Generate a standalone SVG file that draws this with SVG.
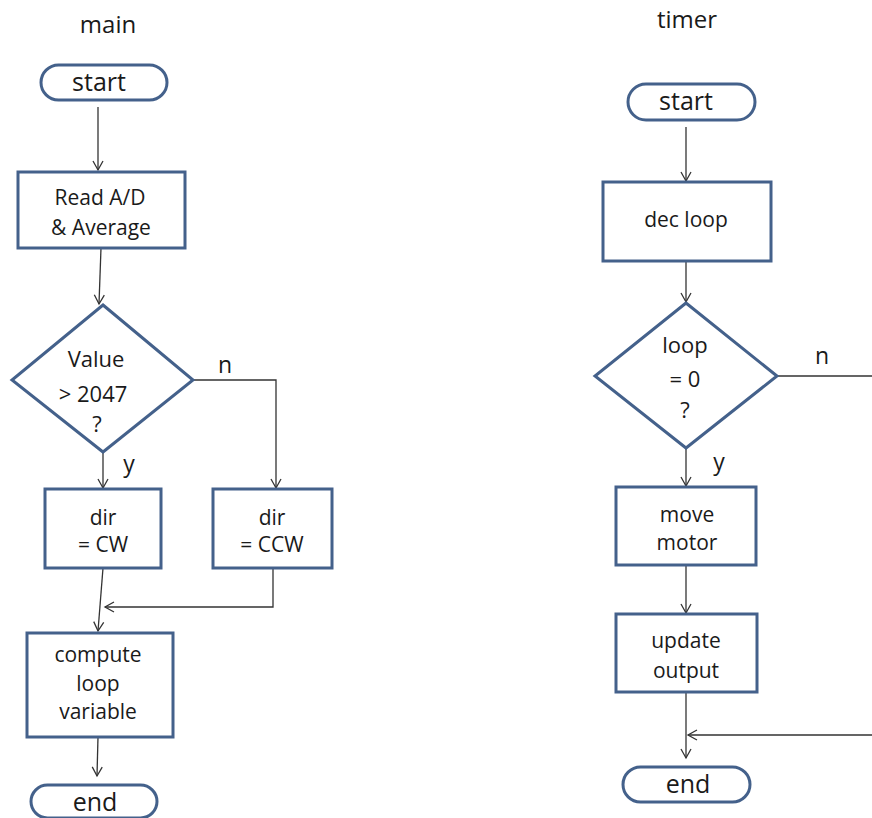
<svg xmlns="http://www.w3.org/2000/svg" width="872" height="818" viewBox="0 0 872 818">
<defs>
<style>
.shape{fill:#ffffff;stroke:#44618b;stroke-width:3}
.conn{fill:none;stroke:#333333;stroke-width:1.3}
text{font-family:"Open Sans","Liberation Sans",sans-serif;fill:#1a1a1a;text-anchor:middle}
.t{font-size:21px}
.d{font-size:22px}
.term{font-size:25px}
.title{font-size:24px}
.lbl{font-size:23px}
</style>
<marker id="arr" markerWidth="12" markerHeight="12" refX="10" refY="6" orient="auto" markerUnits="userSpaceOnUse">
<path d="M1,1 L10,6 L1,11" fill="none" stroke="#333333" stroke-width="1.3"/>
</marker>
</defs>
<rect width="872" height="818" fill="#ffffff"/>

<text class="title" x="108" y="33">main</text>
<text class="title" x="687" y="28">timer</text>

<g id="connectors">
<path class="conn" d="M98,107 V170" marker-end="url(#arr)"/>
<path class="conn" d="M101,248 L99,304" marker-end="url(#arr)"/>
<path class="conn" d="M103,452 V488" marker-end="url(#arr)"/>
<path class="conn" d="M193,380 H276 V488" marker-end="url(#arr)"/>
<path class="conn" d="M103,568 L98,631" marker-end="url(#arr)"/>
<path class="conn" d="M273,568 V607 H105" marker-end="url(#arr)"/>
<path class="conn" d="M98,737 L97,776" marker-end="url(#arr)"/>
<path class="conn" d="M686,127 V181" marker-end="url(#arr)"/>
<path class="conn" d="M686,261 V302" marker-end="url(#arr)"/>
<path class="conn" d="M686,448 V486" marker-end="url(#arr)"/>
<path class="conn" d="M686,565 V613" marker-end="url(#arr)"/>
<path class="conn" d="M686,692 V758" marker-end="url(#arr)"/>
<path class="conn" d="M777,376 H880 V735 H688" marker-end="url(#arr)"/>
<text class="lbl" x="225" y="373">n</text>
<text class="lbl" x="129" y="472">y</text>
<text class="lbl" x="822" y="364">n</text>
<text class="lbl" x="719" y="470">y</text>
</g>

<g id="main-start">
<rect class="shape" x="41" y="65" width="126" height="35" rx="17.5"/>
<text class="term" x="99" y="91">start</text>
</g>
<g id="read-ad">
<rect class="shape" x="18" y="172" width="167" height="76"/>
<text class="t" x="100" y="205">Read A/D</text>
<text class="t" x="101" y="235">&amp; Average</text>
</g>
<g id="value-decision">
<polygon class="shape" points="103,305 193,380 103,452 12,380"/>
<text class="d" x="96" y="367">Value</text>
<text class="d" x="93" y="402">&gt; 2047</text>
<text class="d" x="97" y="432">?</text>
</g>
<g id="dir-cw">
<rect class="shape" x="45" y="489" width="116" height="79"/>
<text class="t" x="103" y="525">dir</text>
<text class="t" x="103" y="552">= CW</text>
</g>
<g id="dir-ccw">
<rect class="shape" x="213" y="489" width="119" height="79"/>
<text class="t" x="272" y="525">dir</text>
<text class="t" x="272" y="552">= CCW</text>
</g>
<g id="compute-loop">
<rect class="shape" x="27" y="633" width="146" height="104"/>
<text class="t" x="98" y="662">compute</text>
<text class="t" x="98" y="691">loop</text>
<text class="t" x="98" y="719">variable</text>
</g>
<g id="main-end">
<rect class="shape" x="31" y="785" width="126" height="33" rx="16.5"/>
<text class="term" x="95" y="811">end</text>
</g>

<g id="timer-start">
<rect class="shape" x="628" y="84" width="127" height="36" rx="18"/>
<text class="term" x="686" y="110">start</text>
</g>
<g id="dec-loop">
<rect class="shape" x="603" y="182" width="168" height="79"/>
<text class="t" x="686" y="227">dec loop</text>
</g>
<g id="loop-decision">
<polygon class="shape" points="686,303 777,376 686,448 595,376"/>
<text class="d" x="685" y="353">loop</text>
<text class="d" x="685" y="387">= 0</text>
<text class="d" x="685" y="418">?</text>
</g>
<g id="move-motor">
<rect class="shape" x="616" y="487" width="140" height="78"/>
<text class="t" x="687" y="522">move</text>
<text class="t" x="687" y="550">motor</text>
</g>
<g id="update-output">
<rect class="shape" x="616" y="614" width="141" height="78"/>
<text class="t" x="686" y="648">update</text>
<text class="t" x="686" y="678">output</text>
</g>
<g id="timer-end">
<rect class="shape" x="623" y="767" width="127" height="35" rx="17.5"/>
<text class="term" x="688" y="793">end</text>
</g>
</svg>
